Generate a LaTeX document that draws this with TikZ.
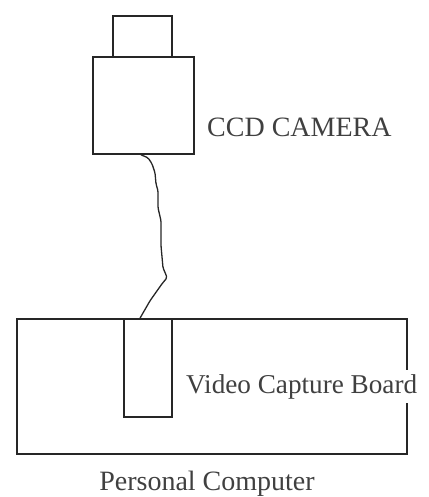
\documentclass[tikz,border=0pt]{standalone}
\usepackage{fontspec}
\setmainfont{Liberation Serif}
\begin{document}
\begin{tikzpicture}[x=1pt,y=-1pt,
  box/.style={draw=black!85, inner sep=0pt, line width=1.6pt},
  cable/.style={draw=black!85, line width=1.3pt, rounded corners=1.5pt},
  lbl/.style={font=\fontsize{28}{30}\selectfont, text=black!75, inner sep=0pt}]
\useasboundingbox (0,0) rectangle (428,497);
% camera
\node[box, minimum width=59pt, minimum height=41pt] (lens) at (142.5,36.5) {};
\node[box, minimum width=101pt, minimum height=97pt] (body) at (143.5,105.5) {};
\node[lbl, anchor=base west] (cam) at (207,137) {CCD CAMERA};
% personal computer and board
\node[box, minimum width=390pt, minimum height=135pt] (pc) at (212,386.5) {};
\node[box, minimum width=48pt, minimum height=98pt] (board) at (148,368) {};
\node[lbl, font=\fontsize{27.2}{30}\selectfont, anchor=base west, fill=white, inner ysep=4pt, inner xsep=1pt] (vcb) at (185,393) {Video Capture Board};
\node[lbl, anchor=base] (pcl) at (207,490) {Personal Computer};
% cable
\coordinate (c0) at ([xshift=-2.5pt]body.south);
\coordinate (c1) at ([xshift=-8pt]board.north);
\draw[cable] (c0) -- ++(7,3) -- ++(4,6) -- ++(3,9) -- ++(1,11) -- ++(2,7) -- ++(0,17)
  -- ++(3,13) -- ++(0,25) -- ++(2,22) -- ++(3,7) -- ++(1,3) -- ++(-5,6) -- ++(-12,17) -- (c1);
\end{tikzpicture}
\end{document}
